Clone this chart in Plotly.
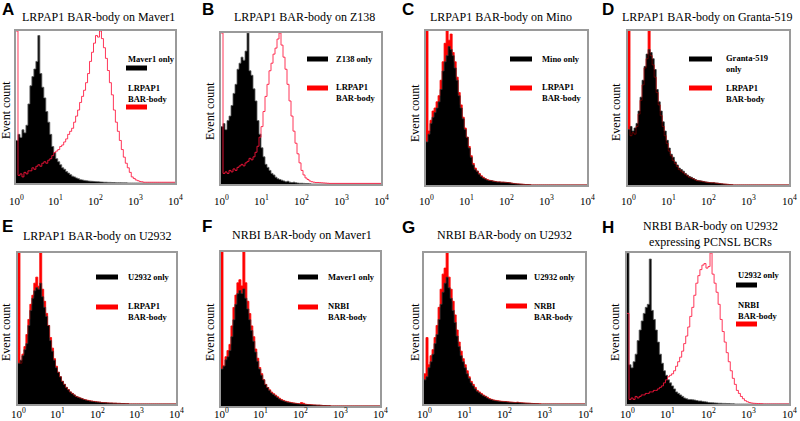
import math
import plotly.graph_objects as go

# ---------------- data (relative event counts, % of panel height) ----------------
# bins are 0.05 decades wide, starting at 10^0 and running to 10^4 (80 bins)
DECADE_STEP = 0.05
N_BINS = 80

def pad(v):
    return list(v) + [0] * (N_BINS - len(v))

A_black = pad([28,32,30,35,33,38,52,64,70,75,80,97,72,63,56,47,40,32,24,20,16,14,12,10,9,7.5,6.5,5.5,4.5,4,3.3,2.8,2.2,2,1.7,1.5,1.3,1.2,1.1,1.0,0.9,0.8,0.7,0.6,0.5,0.5,0.4,0.4,0.3,0.3,0.2,0.2,0.2,0.1,0.1,0.1])
A_red = pad([100,5,6,4,7,6,8,8,10,9,11,12,11,13,14,13,15,16,18,20,21,22,24,25,27,29,32,34,36,40,44,48,53,57,61,66,72,80,86,92,97,96,100,95,89,82,74,66,58,48,40,34,28,22,17,13,10,7,4,3,2,1.5,1,0.8,0.5,0.5,0.5,0.5,0.5,0.5,0.5,0.5,0.5,0.5,0.5,0.5,0.5,0.5,0.5,0.5])

B_black = pad([38,40,36,42,45,52,60,66,76,80,84,82,88,100,75,72,63,55,42,33,24,18,13,11,9,7,6,4.5,3.5,3,2.5,2,1.5,1.8,1.2,1.0,1.2,0.8,0.6,0.5,0.5,0.4,0.3,0.3,0.2])
B_red = pad([100,7,8,7,9,8,10,9,11,12,13,12,14,15,17,16,18,21,25,31,38,48,58,66,75,80,86,90,96,100,92,84,76,66,55,45,35,27,20,14,9,6,4,3,2,1.5,1.2,1,1,0.9,0.8,0.7,0.6,0.5,0.4,0.4,0.4,0.4,0.4,0.4,0.4,0.4,0.4,0.4,0.4,0.4,0.4,0.4,0.4,0.4,0.4,0.4,0.4,0.4,0.4,0.4,0.4,0.4,0.4,0.4])

C_black = pad([28,33,40,44,47,50,54,62,74,80,84,90,88,84,76,68,58,50,43,36,31,24,18,13,10,9,7,5.5,4.5,4,3.2,3,2.8,2.5,2.2,2,2,1.8,1.8,1.7,1.6,1.4,1.2,1.0,0.8,0.7,0.6,0.5,0.4,0.3,0.3,0.2])
C_red = pad([100,35,42,48,50,54,58,68,80,92,100,94,98,86,80,70,60,52,44,37,31,25,19,14,11,9,7.5,6,5,4,3.5,3,2.8,2.5,2.3,2,2,1.8,1.8,1.7,1.6,1.4,1.2,1.0,0.8,0.7,0.6,0.5,0.4,0.3,0.3,0.2])

D_black = pad([36,38,35,37,40,48,57,68,77,85,88,86,82,75,62,54,48,41,35,29,24,20,18,15,13,11,10,9,7.5,6.5,5.5,5,4.2,3.5,3,2.8,2.6,2.3,2,1.8,1.6,1.5,1.5,1.3,1.2,1.0,0.8,0.6,0.5,0.4,0.3,0.2])
D_red = pad([100,32,34,33,38,46,55,65,76,82,100,84,78,70,60,52,45,38,32,27,22,19,16,14,12,10,9,8,7,6,5,4.5,4,3.3,2.8,2.6,2.4,2.1,1.9,1.7,1.5,1.4,1.4,1.2,1.1,0.9,0.7,0.6,0.5,0.4,0.3,0.2])

E_black = pad([27,29,32,36,40,52,62,70,75,77,76,80,71,64,58,52,42,35,29,24,21,18,15,13,11,9.5,8,7,6,5,4.5,4,3.5,3,2.6,2.3,2,1.8,1.6,1.4,1.3,1.2,1.0,0.9,0.8,0.7,0.6,0.6,0.5,0.5,0.4,0.4,0.3,0.3,0.2,0.2])
E_red = pad([100,27,33,38,46,56,66,72,80,84,78,100,76,68,60,52,44,37,30,25,21,18,15,13,11,9.5,8,7,6,5,4.5,4,3.5,3,2.7,2.4,2.1,1.9,1.7,1.5,1.3,1.2,1.0,0.9,0.8,0.7,0.6,0.6,0.5,0.5,0.4,0.4,0.3,0.3,0.2,0.2])

F_black = pad([24,26,30,32,36,45,56,66,73,75,73,76,70,63,56,49,42,35,29,24,20,17,14,12,10,8.5,7.5,6.5,5.5,4.5,3.8,3.3,2.9,2.5,2.2,2,1.8,1.6,1.4,1.3,1.2,1.1,1.0,0.9,0.8,0.7,0.6,0.6,0.5,0.5,0.4,0.3,0.3,0.2,0.2])
F_red = pad([100,26,32,36,40,52,64,72,80,82,78,100,80,68,60,52,45,37,31,25,21,17,14,12,10.5,9,8,7,6,5,4.2,3.6,3.1,2.8,2.5,2.2,2,1.8,1.6,1.5,2.2,1.8,1.2,1.0,0.9,0.8,0.7,0.6,0.5,0.5,0.4,0.3,0.3,0.2,0.2])

G_black = pad([16,18,24,28,33,40,46,56,66,74,80,84,77,70,62,54,45,38,32,28,24,20,17,14,12,10,8.5,7.5,6.5,5.5,5,4,3.3,2.9,2.5,2.2,2,1.8,1.6,1.5,1.5,1.3,1.2,1.1,1.0,0.9,1.0,0.8,0.7,0.6,0.5,0.5,0.4,0.3,0.3,0.2,0.2])
G_red = pad([20,44,26,32,36,44,52,64,76,86,90,100,84,76,68,59,49,41,35,30,26,22,18,15,13,11,9,8,7,6,5.2,4.5,3.6,3.1,2.7,2.4,2.2,2,1.8,1.7,1.6,1.5,1.3,1.2,1.1,1.0,1.2,0.9,0.8,0.7,0.6,0.5,0.5,0.4,0.3,0.3,0.2,0.2])

H_black = pad([100,26,24,28,33,42,49,55,60,64,66,96,62,56,49,41,33,27,22,19,16,14,12,10,8,7,6,5,4,3.5,3,3,2.8,2.6,2.3,2,2,1.7,1.5,1.3,1,0.9,0.8,0.7,0.6,0.5,0.5,0.4,0.4,0.3,0.3,0.2,0.2])
H_red = pad([60,3,4,3,5,4,5,6,6,7,7,8,8,9,9,10,11,12,14,16,18,19,20,22,25,28,31,35,40,45,51,58,64,72,80,85,89,92,93,90,91,100,86,80,74,66,56,48,41,34,28,22,17,13,9,7,5,3.5,2.2,1.5,1,0.7,0.5,0.4,0.3,0.3,0.2])

x_tick_values = [1, 10, 100, 1000, 10000]
x_tick_labels = ["10<sup>0</sup>", "10<sup>1</sup>", "10<sup>2</sup>", "10<sup>3</sup>", "10<sup>4</sup>"]

panels = [
    dict(letter="A", title="LRPAP1 BAR-body on Maver1", black=A_black, red=A_red,
         leg1=["Maver1 only"], leg2=["LRPAP1", "BAR-body"], style="shift"),
    dict(letter="B", title="LRPAP1 BAR-body on Z138", black=B_black, red=B_red,
         leg1=["Z138 only"], leg2=["LRPAP1", "BAR-body"], style="shift"),
    dict(letter="C", title="LRPAP1 BAR-body on Mino", black=C_black, red=C_red,
         leg1=["Mino only"], leg2=["LRPAP1", "BAR-body"], style="overlap"),
    dict(letter="D", title="LRPAP1 BAR-body on Granta-519", black=D_black, red=D_red,
         leg1=["Granta-519", "only"], leg2=["LRPAP1", "BAR-body"], style="overlap"),
    dict(letter="E", title="LRPAP1 BAR-body on U2932", black=E_black, red=E_red,
         leg1=["U2932 only"], leg2=["LRPAP1", "BAR-body"], style="overlap"),
    dict(letter="F", title="NRBI BAR-body on Maver1", black=F_black, red=F_red,
         leg1=["Maver1 only"], leg2=["NRBI", "BAR-body"], style="overlap"),
    dict(letter="G", title="NRBI BAR-body on U2932", black=G_black, red=G_red,
         leg1=["U2932 only"], leg2=["NRBI", "BAR-body"], style="overlap"),
    dict(letter="H", title="NRBI BAR-body on U2932<br>expressing PCNSL BCRs", black=H_black, red=H_red,
         leg1=["U2932 only"], leg2=["NRBI", "BAR-body"], style="shift"),
]

# ---------------- layout geometry (pixels) ----------------
W, H = 800, 421
# plot boxes: left, right, top, bottom
boxes = [(16, 175, 31, 183), (221, 381, 33, 184), (426, 587, 31, 185), (628, 789, 31, 185),
         (18, 176, 253, 404), (221, 380, 252, 406), (424, 585, 253, 404), (627, 789, 253, 404)]
tick_label_y = [200, 200, 200, 200, 413, 413, 413, 413]
title_pos = [(98, 17), (304, 17), (501, 17), (707, 17), (97, 236), (302, 235), (504, 235), (710, 234)]
letter_pos = [(0, 10), (200, 10), (400, 10), (600, 10), (0, 226), (200, 226), (400, 227), (600, 227)]
ylab_pos = [(6, 110), (210, 111), (415, 113), (616, 112), (6, 332), (210, 332), (415, 332), (615, 332)]
legend_geo = [
    dict(bx=(126, 147), by1=68, by2=107, tx=126, t1=59, t2=88),
    dict(bx=(307, 328), by1=59, by2=88, tx=334, t1=59, t2=87),
    dict(bx=(510, 532), by1=59, by2=88, tx=540, t1=59, t2=87),
    dict(bx=(689, 712), by1=59, by2=88, tx=724, t1=58, t2=88),
    dict(bx=(96, 118), by1=277, by2=307, tx=126, t1=277, t2=306),
    dict(bx=(298, 318), by1=277, by2=307, tx=326, t1=277, t2=306),
    dict(bx=(506, 527), by1=277, by2=306, tx=532, t1=277, t2=306),
    dict(bx=(736, 757), by1=285, by2=324, tx=736, t1=275, t2=305),
]

SERIF = "Liberation Serif"
SANS = "Liberation Sans"

def px(x):
    return x / W

def py(y):
    return 1 - y / H

edges = [10 ** (DECADE_STEP * i) for i in range(N_BINS + 1)]

fig = go.Figure()
annotations = []
shapes = []
layout_axes = {}

for k, p in enumerate(panels):
    n = k + 1
    xa = "x" if n == 1 else f"x{n}"
    ya = "y" if n == 1 else f"y{n}"
    l, r, t, b = boxes[k]
    layout_axes["xaxis" if n == 1 else f"xaxis{n}"] = dict(
        domain=[px(l), px(r)], anchor=ya, type="log", range=[0, 4],
        tickvals=x_tick_values, showticklabels=False, ticks="", showgrid=False,
        zeroline=False, showline=True, mirror=True, linecolor="#9a9a9a", linewidth=1.5,
    )
    layout_axes["yaxis" if n == 1 else f"yaxis{n}"] = dict(
        domain=[py(b), py(t)], anchor=xa, range=[0, 100], showticklabels=False,
        ticks="", showgrid=False, zeroline=False, showline=True, mirror=True,
        linecolor="#9a9a9a", linewidth=1.5,
    )
    yb = p["black"] + [p["black"][-1]]
    yr = p["red"] + [p["red"][-1]]
    if p["style"] == "shift":
        fig.add_trace(go.Scatter(x=edges, y=yb, mode="lines", line=dict(shape="hv", color="#5a5a5a", width=0.8),
                                 fill="tozeroy", fillcolor="black", xaxis=xa, yaxis=ya, showlegend=False))
        fig.add_trace(go.Scatter(x=edges, y=yr, mode="lines", line=dict(shape="hv", color="rgba(255,20,60,0.85)", width=1),
                                 xaxis=xa, yaxis=ya, showlegend=False))
    else:
        fig.add_trace(go.Scatter(x=edges, y=yr, mode="lines", line=dict(shape="hv", color="#ff0000", width=0.6),
                                 fill="tozeroy", fillcolor="#ff0000", xaxis=xa, yaxis=ya, showlegend=False))
        fig.add_trace(go.Scatter(x=edges, y=yb, mode="lines", line=dict(shape="hv", color="#333333", width=0.8),
                                 fill="tozeroy", fillcolor="black", xaxis=xa, yaxis=ya, showlegend=False))
        fig.add_trace(go.Scatter(x=edges, y=yr, mode="lines", line=dict(shape="hv", color="rgba(255,0,0,0.45)", width=0.8),
                                 xaxis=xa, yaxis=ya, showlegend=False))

    # x tick labels, placed at the axis's own log positions
    for v, lab in zip(x_tick_values, x_tick_labels):
        annotations.append(dict(x=math.log10(v), y=py(tick_label_y[k]), xref=xa, yref="paper", text=lab,
                                showarrow=False, xanchor="center", yanchor="middle",
                                font=dict(family=SERIF, size=11, color="black")))
    # title
    tx, ty = title_pos[k]
    annotations.append(dict(x=px(tx), y=py(ty), xref="paper", yref="paper", text=p["title"], showarrow=False,
                            font=dict(family=SERIF, size=12, color="black"), xanchor="center", yanchor="middle"))
    # letter
    lx, ly = letter_pos[k]
    annotations.append(dict(x=px(lx), y=py(ly), xref="paper", yref="paper", text=f"<b>{p['letter']}</b>", showarrow=False,
                            font=dict(family=SANS, size=17, color="black"), xanchor="left", yanchor="middle"))
    # y label
    yx, yy = ylab_pos[k]
    annotations.append(dict(x=px(yx), y=py(yy), xref="paper", yref="paper", text="Event count", showarrow=False,
                            textangle=-90, font=dict(family=SERIF, size=12, color="black"),
                            xanchor="center", yanchor="middle"))
    # legend
    g = legend_geo[k]
    x0, x1 = g["bx"]
    shapes.append(dict(type="rect", xref="paper", yref="paper", x0=px(x0), x1=px(x1),
                       y0=py(g["by1"] + 2.5), y1=py(g["by1"] - 2.5), fillcolor="black", line=dict(width=0)))
    shapes.append(dict(type="rect", xref="paper", yref="paper", x0=px(x0), x1=px(x1),
                       y0=py(g["by2"] + 2.5), y1=py(g["by2"] - 2.5), fillcolor="#ff0000", line=dict(width=0)))
    for j, line in enumerate(p["leg1"]):
        annotations.append(dict(x=px(g["tx"]), y=py(g["t1"] + 11 * j), xref="paper", yref="paper",
                                text=f"<b>{line}</b>", showarrow=False, xanchor="left", yanchor="middle",
                                font=dict(family=SERIF, size=8.5, color="black")))
    for j, line in enumerate(p["leg2"]):
        annotations.append(dict(x=px(g["tx"]), y=py(g["t2"] + 11 * j), xref="paper", yref="paper",
                                text=f"<b>{line}</b>", showarrow=False, xanchor="left", yanchor="middle",
                                font=dict(family=SERIF, size=8.5, color="black")))

fig.update_layout(width=W, height=H, margin=dict(l=0, r=0, t=0, b=0), paper_bgcolor="white",
                  plot_bgcolor="white", showlegend=False, annotations=annotations, shapes=shapes, **layout_axes)
fig.write_html("out.html", config={"displayModeBar": False},
               post_script="document.body.style.margin='0';document.body.style.overflow='hidden';")
